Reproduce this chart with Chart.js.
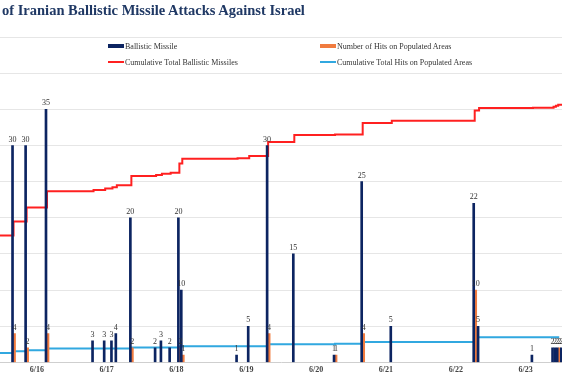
<!DOCTYPE html>
<html>
<head>
<meta charset="utf-8">
<script src="https://cdn.jsdelivr.net/npm/chart.js@4.4.1/dist/chart.umd.min.js"></script>
<style>
  html, body { margin: 0; padding: 0; background: #fff; }
  #wrap { position: relative; width: 562px; height: 380px; overflow: hidden; }
  #title { position: absolute; left: 2px; top: 3px; font: bold 14.5px "Liberation Serif", serif; line-height: 15px; color: #1f3864; white-space: nowrap; }
  #legend { position: absolute; left: 0; top: 0; width: 562px; font: 8px "Liberation Serif", serif; color: #333; }
  .item { position: absolute; display: flex; align-items: center; white-space: nowrap; height: 10px; }
  .sw { display: inline-block; width: 16px; margin-right: 1px; }
</style>
</head>
<body>
<div id="wrap">
  <canvas id="mycanvas" width="562" height="380"></canvas>
  <div id="title">of Iranian Ballistic Missile Attacks Against Israel</div>
  <div id="legend"></div>
</div>
<script>
// hours counted from 6/15 00:00
var missileHours = [16, 20.5, 27.5, 43.5, 47.5, 50, 51.5, 56.5, 65, 67, 70, 73, 74, 93, 97, 103.5, 112.5, 126.5, 136, 146, 174.5, 176, 194.5, 201.6, 202.4, 203.2, 204.6];
var missileCounts = [30, 30, 35, 3, 3, 3, 4, 20, 2, 3, 2, 20, 10, 1, 5, 30, 15, 1, 25, 5, 22, 5, 1, 2, 2, 2, 2];
var hitHours = [16, 20.5, 27.5, 56.5, 73, 74, 103.5, 126.5, 136, 174.5, 203.2];
var hitCounts = [4, 2, 4, 2, 2, 1, 4, 1, 4, 10, 2];

// running totals (first value is the level at the left edge of the view)
var totalMissileHours = [11, 16, 20.5, 27.5, 43.5, 47.5, 50, 51.5, 56.5, 65, 67, 70, 73, 74, 93, 97, 103.5, 112.5, 126.5, 136, 146, 174.5, 176, 194.5, 201.6, 202.4, 203.2, 204.6];
var totalMissiles = [273, 303, 333, 368, 371, 374, 377, 381, 401, 403, 406, 408, 428, 438, 439, 444, 474, 489, 490, 515, 520, 542, 547, 548, 550, 552, 554, 556];
var totalHitHours = [11, 16, 20.5, 27.5, 56.5, 73, 74, 103.5, 126.5, 136, 174.5, 203.2];
var totalHits = [20, 24, 26, 30, 32, 34, 35, 39, 40, 44, 54, 56];

var dayTicks = [24, 48, 72, 96, 120, 144, 168, 192];
var dayLabels = ["6/16", "6/17", "6/18", "6/19", "6/20", "6/21", "6/22", "6/23"];

function pts(xs, ys) {
  var out = [];
  for (var i = 0; i < xs.length; i++) out.push({ x: xs[i], y: ys[i] });
  return out;
}

// numbers over the bars
var barLabels = {
  id: "barLabels",
  afterDatasetsDraw: function (chart) {
    var ctx = chart.ctx;
    ctx.save();
    ctx.font = "8px 'Liberation Serif', serif";
    ctx.fillStyle = "#333";
    ctx.textAlign = "center";
    ctx.textBaseline = "bottom";
    chart.data.datasets.forEach(function (ds, i) {
      if (ds.type !== "bar") return;
      chart.getDatasetMeta(i).data.forEach(function (bar, j) {
        ctx.fillText(ds.data[j].y, bar.x, bar.y - 2);
      });
    });
    ctx.restore();
  }
};

var chartdata = {
  datasets: [
    {
      type: "bar",
      label: "Ballistic Missile",
      data: pts(missileHours, missileCounts),
      backgroundColor: "#0c2461",
      barThickness: 2,
      yAxisID: "y",
      order: 1
    },
    {
      type: "bar",
      label: "Number of Hits on Populated Areas",
      data: pts(hitHours, hitCounts),
      backgroundColor: "#f07b3f",
      barThickness: 2,
      yAxisID: "y",
      order: 1
    },
    {
      type: "line",
      label: "Cumulative Total Ballistic Missiles",
      data: pts(totalMissileHours, totalMissiles),
      borderColor: "#ff2020",
      backgroundColor: "#ff2020",
      borderWidth: 2,
      pointRadius: 0,
      stepped: "before",
      yAxisID: "y2",
      order: 2
    },
    {
      type: "line",
      label: "Cumulative Total Hits on Populated Areas",
      data: pts(totalHitHours, totalHits),
      borderColor: "#31a8e0",
      backgroundColor: "#31a8e0",
      borderWidth: 2,
      pointRadius: 0,
      stepped: "before",
      yAxisID: "y2",
      order: 2
    }
  ]
};

var ctx = document.getElementById("mycanvas");
var myChart = new Chart(ctx, {
  type: "bar",
  data: chartdata,
  plugins: [barLabels],
  options: {
    responsive: false,
    animation: false,
    layout: { padding: { top: 37, left: 0, right: 0, bottom: 2 } },
    plugins: { legend: { display: false }, tooltip: { enabled: false } },
    scales: {
      x: {
        type: "linear",
        min: 11.35,
        max: 204.5,
        offset: false,
        grid: { display: false, drawTicks: false },
        border: { display: true, color: "#cfcfcf", dash: [2, 2] },
        afterBuildTicks: function (scale) {
          scale.ticks = dayTicks.map(function (v) { return { value: v }; });
        },
        ticks: {
          autoSkip: false,
          maxRotation: 0,
          padding: 3,
          color: "#444",
          font: { family: "'Liberation Serif', serif", size: 8, weight: "bold" },
          callback: function (v) { return dayLabels[dayTicks.indexOf(v)]; }
        }
      },
      y: {
        min: 0,
        max: 45,
        ticks: { display: false, stepSize: 5 },
        border: { display: false },
        grid: {
          drawTicks: false,
          color: function (c) { return c.tick && c.tick.value === 0 ? "rgba(0,0,0,0)" : "#e6e6e6"; }
        }
      },
      y2: {
        min: 0,
        max: 700,
        display: false
      }
    }
  }
});

// legend in two columns, built from the datasets
var legend = document.getElementById("legend");
var spots = [[108, 46], [320, 46], [108, 62], [320, 62]];
chartdata.datasets.forEach(function (ds, i) {
  var item = document.createElement("div");
  item.className = "item";
  item.style.left = spots[i][0] + "px";
  item.style.top = (spots[i][1] - 5) + "px";
  var sw = document.createElement("span");
  sw.className = "sw";
  sw.style.height = ds.type === "bar" ? "4px" : "2px";
  sw.style.background = ds.type === "bar" ? ds.backgroundColor : ds.borderColor;
  item.appendChild(sw);
  item.appendChild(document.createTextNode(ds.label));
  legend.appendChild(item);
});
</script>
</body>
</html>
